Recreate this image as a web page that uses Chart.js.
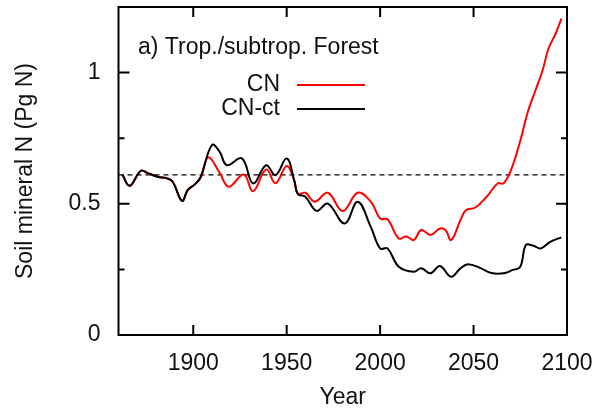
<!DOCTYPE html>
<html>
<head>
<meta charset="utf-8">
<script src="https://cdn.jsdelivr.net/npm/chart.js@4/dist/chart.umd.min.js"></script>
<style>
  html, body { margin: 0; padding: 0; background: #fff; }
  #wrap { width: 600px; height: 415px; }
</style>
</head>
<body>
<div id="wrap"><canvas id="soilChart" width="600" height="415"></canvas></div>
<script>
// CN run
const cnYears = [1862, 1866, 1872, 1876, 1881, 1886, 1889, 1894, 1897, 1901, 1904, 1908, 1914, 1919, 1927,
  1932, 1939, 1944, 1950, 1954, 1956, 1960, 1965, 1972, 1980, 1988, 1995, 2000, 2004, 2010, 2014, 2018,
  2022, 2027, 2032, 2035, 2038, 2043, 2046, 2051, 2057, 2063, 2066, 2070, 2075, 2079, 2083, 2087, 2090,
  2094, 2097];
const cnValues = [0.612, 0.569, 0.626, 0.616, 0.603, 0.597, 0.584, 0.511, 0.552, 0.575, 0.600, 0.677, 0.620, 0.565, 0.612,
  0.548, 0.631, 0.578, 0.644, 0.590, 0.537, 0.542, 0.508, 0.542, 0.473, 0.542, 0.508, 0.444, 0.440, 0.368, 0.375, 0.362,
  0.400, 0.381, 0.406, 0.400, 0.362, 0.438, 0.476, 0.486, 0.527, 0.578, 0.578, 0.628, 0.740, 0.850, 0.930, 1.010, 1.090,
  1.150, 1.206];

// CN-ct run
const ctYears = [1862, 1866, 1872, 1876, 1881, 1886, 1889, 1894, 1897, 1901, 1904, 1910, 1914, 1918, 1926,
  1932, 1939, 1944, 1950, 1954, 1956, 1960, 1966, 1972, 1981, 1988, 1995, 2000, 2004, 2010, 2018, 2022,
  2027, 2032, 2038, 2043, 2047, 2054, 2059, 2066, 2071, 2075, 2078, 2082, 2086, 2091, 2097];
const ctValues = [0.612, 0.569, 0.626, 0.616, 0.603, 0.597, 0.584, 0.511, 0.552, 0.575, 0.603, 0.724, 0.700, 0.647, 0.673,
  0.578, 0.647, 0.609, 0.673, 0.590, 0.537, 0.527, 0.473, 0.501, 0.425, 0.508, 0.412, 0.330, 0.330, 0.260, 0.241, 0.254,
  0.235, 0.263, 0.222, 0.254, 0.270, 0.254, 0.237, 0.235, 0.248, 0.260, 0.343, 0.340, 0.330, 0.355, 0.372];

// initial level, dashed
const refLevel = 0.61;
const xTicks = [1900, 1950, 2000, 2050, 2100];
const yTicks = [0, 0.25, 0.5, 0.75, 1];

const FONT = "'Liberation Sans', Arial, sans-serif";
const FSIZE = 23;

const toPoints = (xs, ys) => xs.map((x, i) => ({ x: x, y: ys[i] }));

// frame, inward ticks, panel label and legend
const framePlugin = {
  id: 'frame',
  afterDatasetsDraw(chart) {
    const { ctx, chartArea: a, scales: { x, y } } = chart;
    ctx.save();
    ctx.strokeStyle = '#000';
    ctx.lineWidth = 2;
    ctx.strokeRect(a.left, a.top, a.right - a.left, a.bottom - a.top);
    ctx.beginPath();
    xTicks.forEach(v => {
      const px = x.getPixelForValue(v);
      ctx.moveTo(px, a.bottom); ctx.lineTo(px, a.bottom - 10);
      ctx.moveTo(px, a.top); ctx.lineTo(px, a.top + 10);
    });
    yTicks.forEach(v => {
      const py = y.getPixelForValue(v);
      const len = v % 0.5 === 0 ? 11 : 6;
      ctx.moveTo(a.left, py); ctx.lineTo(a.left + len, py);
      ctx.moveTo(a.right, py); ctx.lineTo(a.right - len, py);
    });
    ctx.stroke();

    ctx.fillStyle = '#111';
    ctx.font = FSIZE + 'px ' + FONT;
    ctx.textBaseline = 'middle';
    ctx.textAlign = 'left';
    ctx.fillText('a) Trop./subtrop. Forest', 138, 48);

    const items = [['CN', '#ff0000', 85], ['CN-ct', '#000', 109]];
    ctx.textAlign = 'right';
    items.forEach(([label, color, ly]) => {
      ctx.fillStyle = '#111';
      ctx.fillText(label, 280, ly);
      ctx.strokeStyle = color;
      ctx.lineWidth = 2;
      ctx.beginPath();
      ctx.moveTo(297, ly); ctx.lineTo(365, ly);
      ctx.stroke();
    });
    ctx.restore();
  }
};

new Chart(document.getElementById('soilChart').getContext('2d'), {
  type: 'line',
  data: {
    datasets: [
      {
        label: 'CN-ct',
        data: toPoints(ctYears, ctValues),
        borderColor: '#000',
        borderWidth: 2,
        tension: 0.4,
        pointRadius: 0,
        order: 1
      },
      {
        label: 'CN',
        data: toPoints(cnYears, cnValues),
        borderColor: '#ff0000',
        borderWidth: 2,
        tension: 0.4,
        pointRadius: 0,
        order: 2
      },
      {
        label: 'initial',
        data: [{ x: 1860, y: refLevel }, { x: 2100, y: refLevel }],
        borderColor: '#000',
        borderWidth: 1.3,
        borderDash: [5, 4],
        pointRadius: 0,
        order: 3
      }
    ]
  },
  options: {
    responsive: false,
    animation: false,
    layout: { padding: { top: 7, right: 33, left: 0, bottom: 0 } },
    plugins: {
      legend: { display: false },
      tooltip: { enabled: false }
    },
    scales: {
      x: {
        type: 'linear',
        min: 1860,
        max: 2100,
        afterBuildTicks: s => { s.ticks = xTicks.map(v => ({ value: v })); },
        afterFit: s => { s.height = 80; s.paddingLeft = 0; s.paddingRight = 0; },
        grid: { display: false, drawTicks: false },
        border: { display: false },
        ticks: { padding: 15, color: '#111', font: { family: FONT, size: FSIZE }, callback: v => String(v) },
        title: { display: true, text: 'Year', color: '#111', padding: { top: 0, bottom: 4 }, font: { family: FONT, size: FSIZE } }
      },
      y: {
        min: 0,
        max: 1.25,
        afterBuildTicks: s => { s.ticks = [0, 0.5, 1].map(v => ({ value: v })); },
        afterFit: s => { s.width = 118.5; s.paddingTop = 0; s.paddingBottom = 0; },
        grid: { display: false, drawTicks: false },
        border: { display: false },
        ticks: { padding: 18, color: '#111', font: { family: FONT, size: FSIZE }, callback: v => String(v) },
        title: { display: true, text: 'Soil mineral N (Pg N)', color: '#111', padding: { top: 12, bottom: 0 }, font: { family: FONT, size: FSIZE } }
      }
    }
  },
  plugins: [framePlugin]
});
</script>
</body>
</html>
